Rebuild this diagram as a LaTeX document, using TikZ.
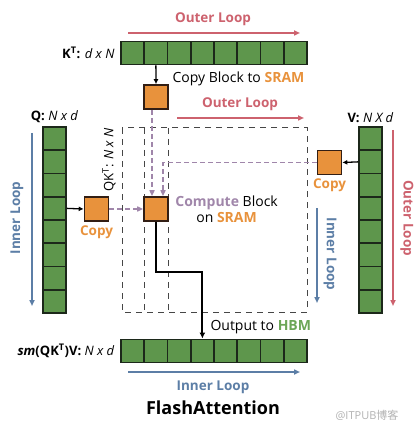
\documentclass[tikz,border=0pt]{standalone}
\usepackage{fontspec}
\setmainfont{Open Sans}
\newfontfamily\cjkfont{Noto Sans CJK SC}
\usetikzlibrary{calc,positioning,arrows.meta}
\definecolor{cellgreen}{RGB}{94,150,76}
\definecolor{cellline}{RGB}{28,40,26}
\definecolor{blkorange}{RGB}{232,146,60}
\definecolor{blkline}{RGB}{50,30,20}
\definecolor{loopred}{RGB}{205,98,110}
\definecolor{loopblue}{RGB}{92,126,166}
\definecolor{flowpurple}{RGB}{160,134,170}
\definecolor{hbmgreen}{RGB}{108,166,88}
\definecolor{boxgray}{RGB}{70,70,70}
\begin{document}
\begin{tikzpicture}[x=1pt,y=-1pt,
  cell/.style={draw=cellline,fill=cellgreen,line width=1.6pt,minimum width=23.25pt,minimum height=23.25pt,inner sep=0pt},
  blk/.style={draw=blkline,fill=blkorange,line width=1.6pt,minimum size=24pt,inner sep=0pt},
  loop/.style={line width=1.8pt,-{Triangle[length=6pt,width=5pt]}},
  flow/.style={flowpurple,line width=1.5pt,dash pattern=on 5pt off 3pt,-{Triangle[length=6pt,width=5pt]}},
  qkbox/.style={boxgray,line width=1pt,dash pattern=on 6pt off 5pt},
  big/.style={font=\fontsize{13.5}{15}\selectfont\bfseries},
  txt/.style={font=\fontsize{14}{16}\selectfont},
  tag/.style={font=\fontsize{13}{15}\selectfont}]
\useasboundingbox (0,0) rectangle (416,430);

\foreach \i in {1,...,8} {
  \node[cell] (k\i) at ({121+23.25*(\i-0.5)},53) {};
  \node[cell] (o\i) at ({121+23.25*(\i-0.5)},351) {};
  \node[cell] (q\i) at (54.5,{127+23.25*(\i-0.5)}) {};
  \node[cell] (v\i) at (370.5,{127+23.25*(\i-0.5)}) {};
}

\node[tag,anchor=east] (klabel) at (118,53) {\textbf{K\textsuperscript{T}:} \textit{d x N}};
\node[tag,anchor=south] (qlabel) at (54.5,126) {\textbf{Q:} \textit{N x d}};
\node[tag,anchor=south] (vlabel) at (370.5,126) {\textbf{V:} \textit{N X d}};
\node[tag,anchor=east] (olabel) at (118,351) {\textbf{\textit{sm}(QK\textsuperscript{T})V:} \textit{N x d}};

\draw[qkbox] (122,128) rectangle (307,312);
\draw[qkbox] (144,128) -- (144,312) (168,128) -- (168,312);
\node[tag,rotate=90] (qklabel) at (109,160) {QK\textsuperscript{T}: \textit{N x N}};

\node[blk] (kblock) at (156,97) {};
\node[blk] (qblock) at (96.5,209) {};
\node[blk] (vblock) at (329.5,162.5) {};
\node[blk] (cblock) at (156,209) {};

\draw[line width=1.3pt,-{Latex[length=5pt,width=5pt]}] (k2.south) -- (kblock.north);
\draw[line width=1.3pt,-{Latex[length=5pt,width=5pt]}] (q4.east) -- (qblock.west);
\draw[line width=1.3pt,-{Latex[length=5pt,width=5pt]}] (v2.west) -- (vblock.east);

\draw[flow] ([xshift=-4pt]kblock.south) -- ([xshift=-4pt]cblock.north);
\draw[flow] (vblock.west) -| ([xshift=7pt]cblock.north);
\draw[flow] (qblock.east) -- (cblock.west);

\draw[line width=1.8pt,-{Latex[length=6pt,width=6pt]}] (cblock.south) -- ++(0,50) -| (o4.north);

\node[txt,anchor=west] (copytext) at (169,79) {Copy Block to \textbf{\color{blkorange}SRAM}};
\node[txt,align=center,right=3pt of cblock] (ctext) {\textbf{\color{flowpurple}Compute} Block\\on \textbf{\color{blkorange}SRAM}};
\node[big,text=blkorange,below=0pt of qblock] (qcopy) {Copy};
\node[big,text=blkorange,below=0pt of vblock] (vcopy) {Copy};
\node[txt,anchor=west] (outtext) at (207,327) {Output to \textbf{\color{hbmgreen}HBM}};

\draw[loop,loopred] (128,33) -- (300,33);
\node[big,text=loopred] (outer1) at (213,19) {Outer Loop};
\draw[loop,loopred] (177,118) -- (304,118);
\node[big,text=loopred] (outer2) at (240,104) {Outer Loop};
\draw[loop,loopred] (393,130) -- (393,306);
\node[big,text=loopred,rotate=-90] (outer3) at (407,218) {Outer Loop};
\draw[loop,loopblue] (32,133) -- (32,306);
\node[big,text=loopblue,rotate=90] (inner1) at (17,218) {Inner Loop};
\draw[loop,loopblue] (317,208) -- (317,303);
\node[big,text=loopblue,rotate=-90] (inner2) at (330,254) {Inner Loop};
\draw[loop,loopblue] (128,372) -- (300,372);
\node[big,text=loopblue] (inner3) at (213,387) {Inner Loop};

\node[font=\fontsize{18}{20}\selectfont\bfseries] (title) at (213,408) {FlashAttention};
\node[font=\fontsize{11}{13}\selectfont,text=black!30] (mark) at (367,415) {@ITPUB{\cjkfont 博客}};
\end{tikzpicture}
\end{document}
